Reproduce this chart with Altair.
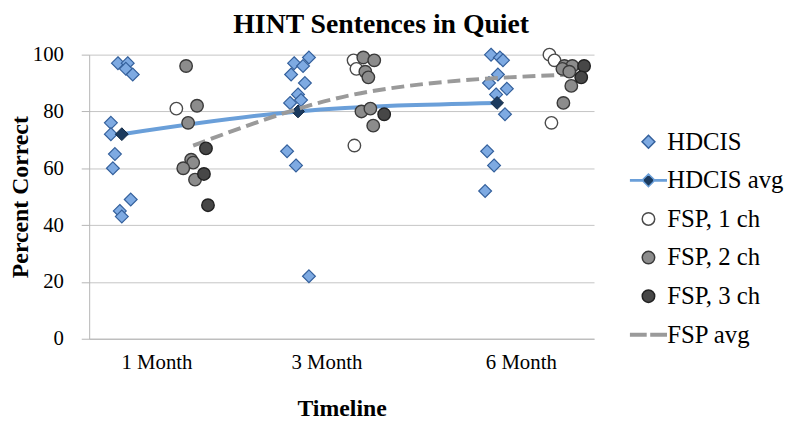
import altair as alt
import pandas as pd

SERIES = ["HDCIS", "HDCIS avg", "FSP, 1 ch", "FSP, 2 ch", "FSP, 3 ch", "FSP avg"]

# x = position along the timeline axis (0..3), y = percent correct
hdcis_x = [0.171, 0.229, 0.218, 0.259, 0.129, 0.129, 0.153, 0.141, 0.247, 0.182, 0.194,
           1.306, 1.218, 1.271, 1.200, 1.282, 1.241, 1.259, 1.194, 1.176, 1.229, 1.306,
           2.388, 2.441, 2.459, 2.429, 2.376, 2.418, 2.482, 2.471, 2.365, 2.406, 2.353]
hdcis_y = [97, 97, 95, 93, 76, 72, 65, 60, 49, 45, 43,
           99, 97, 96, 93, 90, 86, 84, 83, 66, 61, 22,
           100, 99, 98, 93, 90, 86, 88, 79, 66, 61, 52]

hdcis_avg_x = [0.194, 1.241, 2.424]
hdcis_avg_y = [72, 80, 83]

fsp1_x = [0.518, 1.571, 1.588, 1.576, 2.735, 2.765, 2.747]
fsp1_y = [81, 98, 95, 68, 100, 98, 76]

fsp2_x = [0.576, 0.641, 0.588, 0.606, 0.618, 0.559, 0.629,
          1.629, 1.694, 1.641, 1.659, 1.618, 1.671, 1.688,
          2.824, 2.871, 2.812, 2.853, 2.865, 2.818]
fsp2_y = [96, 82, 76, 63, 62, 60, 56,
          99, 98, 94, 92, 80, 81, 75,
          96, 96, 95, 94, 89, 83]

fsp3_x = [0.694, 0.682, 0.706, 1.753, 2.941, 2.924]
fsp3_y = [67, 58, 47, 79, 96, 92]

fsp_avg_x = [0.618, 1.665, 2.853]
fsp_avg_y = [68, 87, 93]

tick_values = [0.4, 1.41, 2.565]
tick_labels = ["1 Month", "3 Month", "6 Month"]
y_ticks = [0, 20, 40, 60, 80, 100]

# symbol paths (unit box -1..1)
DIAMOND = "M0,-0.36L0.36,0L0,0.36L-0.36,0Z"
CIRCLE = "M0.35,0A0.35,0.35,0,1,1,-0.35,0A0.35,0.35,0,1,1,0.35,0Z"
AVG_SYM = "M-1,-0.04H-0.3V0.04H-1ZM0.3,-0.04H1V0.04H0.3Z" + DIAMOND
DASH_SYM = "M-1,-0.07H-0.14V0.07H-1ZM0.14,-0.07H1V0.07H0.14Z"

shape_range = [DIAMOND, AVG_SYM, CIRCLE, CIRCLE, CIRCLE, DASH_SYM]
fill_range = ["#7eaae2", "#1b3a5e", "#ffffff", "#8c8c8c", "#474747", "#9a9a9a"]
stroke_range = ["#34609c", "#6a9fd9", "#4a4a4a", "#3a3a3a", "#222222", "#9a9a9a"]

FONT = "Liberation Serif"
SYM = 1296

hdcis_df = pd.DataFrame({"x": hdcis_x, "y": hdcis_y, "series": "HDCIS"})
fsp_df = pd.concat([
    pd.DataFrame({"x": fsp1_x, "y": fsp1_y, "series": "FSP, 1 ch"}),
    pd.DataFrame({"x": fsp2_x, "y": fsp2_y, "series": "FSP, 2 ch"}),
    pd.DataFrame({"x": fsp3_x, "y": fsp3_y, "series": "FSP, 3 ch"}),
], ignore_index=True)
hdcis_avg_df = pd.DataFrame({"x": hdcis_avg_x, "y": hdcis_avg_y})
fsp_avg_df = pd.DataFrame({"x": fsp_avg_x, "y": fsp_avg_y})

label_expr = ("datum.value < 1 ? '%s' : datum.value < 2 ? '%s' : '%s'"
              % tuple(tick_labels))

x_enc = alt.X("x:Q",
              scale=alt.Scale(domain=[0, 3], nice=False, zero=False),
              axis=alt.Axis(values=tick_values, labelExpr=label_expr,
                            title="Timeline", grid=False, ticks=False,
                            domainColor="#b5b5b5", domainWidth=1,
                            labelFont=FONT, labelFontSize=21, labelColor="#000",
                            labelPadding=13,
                            titleFont=FONT, titleFontSize=24, titleFontWeight="bold",
                            titleColor="#000", titlePadding=25))
y_enc = alt.Y("y:Q",
              scale=alt.Scale(domain=[0, 100], nice=False),
              axis=alt.Axis(values=y_ticks, title="Percent Correct",
                            grid=True, gridColor="#c4c4c4", gridWidth=1,
                            tickSize=8, tickColor="#b5b5b5",
                            domainColor="#b5b5b5",
                            labelFont=FONT, labelFontSize=21, labelColor="#000",
                            labelPadding=18,
                            titleFont=FONT, titleFontSize=24, titleFontWeight="bold",
                            titleColor="#000", titlePadding=0))

def series_enc():
    return dict(
        shape=alt.Shape("series:N", scale=alt.Scale(domain=SERIES, range=shape_range), title=None),
        fill=alt.Fill("series:N", scale=alt.Scale(domain=SERIES, range=fill_range), title=None),
        stroke=alt.Stroke("series:N", scale=alt.Scale(domain=SERIES, range=stroke_range), title=None),
    )

hdcis_pts = alt.Chart(hdcis_df).mark_point(
    filled=True, size=SYM, strokeWidth=1.2, opacity=1
).encode(x=x_enc, y=y_enc, **series_enc())

hdcis_line = alt.Chart(hdcis_avg_df).mark_line(
    color="#6a9fd9", strokeWidth=4, interpolate="monotone"
).encode(x="x:Q", y="y:Q")

hdcis_avg_pts = alt.Chart(hdcis_avg_df).mark_point(
    shape=DIAMOND, size=SYM, filled=True, fill="#1b3a5e", stroke="#0f2540",
    strokeWidth=1, opacity=1
).encode(x="x:Q", y="y:Q")

fsp_pts = alt.Chart(fsp_df).mark_point(
    filled=True, size=SYM, strokeWidth=1.4, opacity=1
).encode(x="x:Q", y="y:Q", **series_enc())

fsp_line = alt.Chart(fsp_avg_df).mark_line(
    color="#9a9a9a", strokeWidth=4, strokeDash=[13, 6], interpolate="monotone"
).encode(x="x:Q", y="y:Q")

chart = alt.layer(
    hdcis_pts, hdcis_line, hdcis_avg_pts, fsp_line, fsp_pts
).properties(
    width=510, height=287,
    title=alt.Title("HINT Sentences in Quiet", font=FONT, fontSize=28,
                    fontWeight="bold", color="#000", anchor="middle",
                    frame="group", dx=40, dy=-1),
    autosize=alt.AutoSizeParams(type="none"),
    padding={"left": 82, "top": 45, "right": 200, "bottom": 81},
    background="white",
).configure_view(
    stroke=None
).configure_legend(
    orient="none", legendX=546, legendY=69, padding=0,
    symbolSize=SYM, symbolStrokeWidth=1.5, symbolOffset=0,
    labelFont=FONT, labelFontSize=25, labelColor="#000", labelOffset=0,
    rowPadding=7, labelLimit=220,
)

chart.save("out.html", embed_options={"renderer": "svg", "actions": False})
